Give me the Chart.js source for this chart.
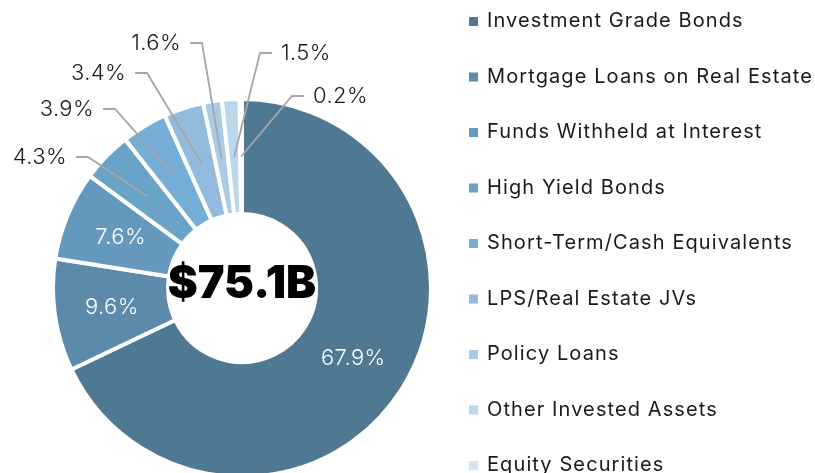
<!DOCTYPE html>
<html>
<head>
<meta charset="utf-8">
<script src="https://cdn.jsdelivr.net/npm/chart.js@4.4.1/dist/chart.umd.min.js"></script>
<style>
  html, body { margin: 0; padding: 0; background: #fff; overflow: hidden; }
  #wrap { position: relative; width: 815px; height: 576px; }
</style>
</head>
<body>
<div id="wrap"><canvas id="chart"></canvas></div>
<script>
const categories = [
  'Investment Grade Bonds',
  'Mortgage Loans on Real Estate',
  'Funds Withheld at Interest',
  'High Yield Bonds',
  'Short-Term/Cash Equivalents',
  'LPS/Real Estate JVs',
  'Policy Loans',
  'Other Invested Assets',
  'Equity Securities'
];
const shares = [67.9, 9.6, 7.6, 4.3, 3.9, 3.4, 1.6, 1.5, 0.2];
const totalLabel = '$75.1B';

const sliceColors = ['#4f7893', '#5b8aab', '#6499bd', '#6aa3c8', '#74aed6', '#93bbdd', '#a9cbe7', '#bcd6ec', '#d4e4f2'];

// elbow of the leader line, relative to the doughnut centre, for slices labelled outside
const callouts = {
  3: [-154, -131, 'left'],
  4: [-127, -179, 'left'],
  5: [-95, -215, 'left'],
  6: [-40, -245, 'left'],
  7: [18, -235, 'right'],
  8: [50, -192, 'right']
};

const FONT = 'Inter, "Noto Sans", sans-serif';

const labelPlugin = {
  id: 'sliceLabels',
  afterDraw(chart) {
    const ctx = chart.ctx;
    const area = chart.chartArea;
    const cx = (area.left + area.right) / 2;
    const cy = (area.top + area.bottom) / 2;
    const meta = chart.getDatasetMeta(0);

    meta.data.forEach((arc, i) => {
      const p = arc.tooltipPosition();
      const text = shares[i].toFixed(1) + '%';
      const c = callouts[i];
      ctx.save();
      ctx.font = '300 22px ' + FONT;
      ctx.letterSpacing = '0.4px';
      ctx.textBaseline = 'middle';
      if (!c) {
        ctx.fillStyle = '#ffffff';
        ctx.textAlign = 'center';
        ctx.fillText(text, p.x, p.y);
      } else {
        const ex = cx + c[0];
        const ey = cy + c[1];
        const dir = c[2] === 'left' ? -1 : 1;
        ctx.strokeStyle = '#a6a6a6';
        ctx.lineWidth = 1.8;
        ctx.beginPath();
        ctx.moveTo(p.x, p.y);
        ctx.lineTo(ex, ey);
        ctx.lineTo(ex + dir * 12, ey);
        ctx.stroke();
        ctx.fillStyle = '#1a1a1a';
        ctx.textAlign = dir < 0 ? 'right' : 'left';
        ctx.fillText(text, ex + dir * 21, ey);
      }
      ctx.restore();
    });

    // total in the hole
    ctx.save();
    ctx.font = '900 45px ' + FONT;
    ctx.fillStyle = '#000000';
    ctx.textAlign = 'center';
    ctx.textBaseline = 'middle';
    ctx.fillText(totalLabel, cx, cy - 4);
    ctx.restore();

    // legend
    ctx.save();
    ctx.font = '400 20px ' + FONT;
    ctx.letterSpacing = '1.1px';
    ctx.textBaseline = 'middle';
    ctx.textAlign = 'left';
    categories.forEach((name, i) => {
      const y = 21 + i * 55.5;
      ctx.fillStyle = sliceColors[i];
      ctx.fillRect(469, y - 4, 9, 9);
      ctx.fillStyle = '#1a1a1a';
      ctx.fillText(name, 487, y);
    });
    ctx.restore();
  }
};

new Chart(document.getElementById('chart').getContext('2d'), {
  type: 'doughnut',
  data: {
    labels: categories,
    datasets: [{
      data: shares,
      backgroundColor: sliceColors,
      borderColor: '#ffffff',
      borderWidth: 4
    }]
  },
  options: {
    responsive: true,
    maintainAspectRatio: false,
    animation: false,
    radius: 189,
    cutout: 94,
    layout: { padding: { left: 0, right: 331, top: 0, bottom: 0 } },
    plugins: {
      legend: { display: false },
      tooltip: { enabled: false }
    }
  },
  plugins: [labelPlugin]
});
</script>
</body>
</html>
